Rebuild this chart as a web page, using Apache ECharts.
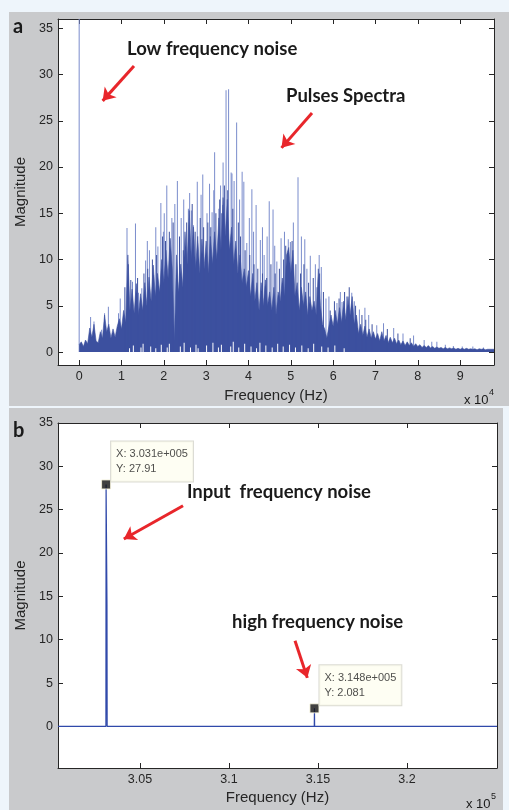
<!DOCTYPE html>
<html>
<head>
<meta charset="utf-8">
<script src="https://cdn.jsdelivr.net/npm/echarts@6/dist/echarts.min.js"></script>
<style>
  html, body { margin: 0; padding: 0; background: #eef5fb; }
  #wrap { position: relative; width: 509px; height: 810px; overflow: hidden; }
  .panel { position: absolute; background: #c9cacc; }
  #panel-a { left: 9px; top: 12px; width: 500px; height: 394px; }
  #panel-b { left: 9px; top: 408px; width: 494px; height: 402px; }
  #chart { position: absolute; left: 0; top: 0; width: 509px; height: 810px; }
</style>
</head>
<body>
<div id="wrap">
  <div class="panel" id="panel-a"></div>
  <div class="panel" id="panel-b"></div>
  <div id="chart"></div>
</div>
<script>
// panel a: dense part of the spectrum, one value per 500 Hz bin (0 .. 98 kHz)
const binHz = 500;
const massA = [
  0.8, 1.1, 0.6, 1.3, 0.9, 2.6, 1.6, 3.0, 1.2, 1.0, 2.2, 1.5, 4.0, 2.2, 3.0, 1.5, 2.5, 1.6, 2.8, 3.6,
  2.5, 4.5, 3.2, 10.5, 4.5, 6.8, 4.2, 7.4, 4.0, 6.3, 4.5, 7.5, 5.0, 8.1, 5.5, 9.4, 6.0, 8.5, 6.5, 10.0,
  7.5, 11.0, 8.0, 12.3, 9.0, 1.2, 10.5, 6.5, 9.5, 7.0, 13.0, 9.5, 15.3, 10.0, 13.5, 9.0, 12.5, 8.5, 12.2, 9.0,
  12.0, 8.5, 12.5, 9.5, 13.0, 10.0, 14.5, 11.0, 16.7, 12.5, 16.5, 11.0, 13.5, 9.5, 12.0, 8.5, 10.5, 7.5, 9.0, 7.0,
  8.8, 6.0, 8.5, 5.5, 7.5, 4.5, 7.5, 5.0, 7.8, 5.0, 6.5, 4.5, 7.0, 4.0, 6.5, 5.5, 8.0, 6.0, 10.5, 11.3,
  8.5, 11.0, 6.0, 7.5, 4.5, 7.0, 5.0, 6.5, 4.0, 6.0, 4.5, 5.5, 4.0, 9.0, 5.0, 3.0, 2.5, 1.5, 2.8, 4.0,
  2.8, 4.5, 3.0, 4.8, 3.2, 5.5, 3.5, 6.0, 4.0, 6.0, 3.0, 4.0, 2.0, 3.0, 1.8, 2.8, 1.6, 2.5, 1.5, 2.2,
  1.4, 2.0, 1.2, 2.2, 1.2, 1.8, 1.0, 1.6, 1.0, 1.5, 0.9, 1.3, 0.8, 1.2, 0.7, 1.1, 0.7, 1.0, 0.6, 0.9,
  0.6, 0.8, 0.5, 0.7, 0.5, 0.7, 0.45, 0.6, 0.4, 0.55, 0.4, 0.5, 0.35, 0.5, 0.35, 0.45, 0.35, 0.45, 0.3, 0.4,
  0.3, 0.4, 0.3, 0.4, 0.3, 0.35, 0.3, 0.35, 0.25, 0.35, 0.3, 0.35, 0.25, 0.3, 0.3, 0.3, 0.3
];
// thin dark peaks inside the dense part
const darkFreqA = [10800, 11600, 12200, 13800, 15300, 16200, 17300, 18300, 19700, 20400, 21300, 22200,
  23700, 24600, 25400, 26700, 27400, 28600, 29400, 30400, 31100, 32300, 33200, 33700, 34300, 35100,
  36300, 37600, 38100, 39200, 40300, 41300, 42200, 43300, 44300, 45300, 46300, 47300, 48300, 48800,
  50300, 51200, 52300, 53100, 54200, 55300, 56200, 56800, 57700, 59300, 60300, 61400, 62700, 63800,
  65300, 66800, 67700, 69200, 72800, 75300, 78200];
const darkMagA = [7.0, 9.5, 7.8, 8.0, 8.5, 9.0, 10.0, 10.5, 12.5, 12.0, 13.0, 14.0,
  12.5, 11.0, 14.0, 16.0, 13.0, 14.5, 13.5, 14.0, 13.5, 15.0, 16.5, 15.0, 18.0, 17.5,
  15.5, 14.0, 12.5, 11.0, 10.5, 9.5, 9.0, 8.5, 8.0, 9.5, 8.5, 9.0, 10.0, 11.5,
  12.0, 9.5, 8.5, 9.5, 7.5, 8.0, 7.0, 8.5, 6.5, 4.5, 5.5, 5.8, 6.5, 7.0,
  5.0, 4.0, 3.5, 3.0, 2.5, 2.0, 1.5];
// isolated peaks standing above the dense part
const spikeFreqA = [0, 2700, 3500, 5300, 6000, 6900, 9300, 9700, 11300, 12600, 13300, 14000, 14800, 15700,
  16100, 16600, 17600, 18100, 18600, 19300, 19900, 20100, 20700, 21900, 22600, 23200, 24100, 24700,
  25200, 25800, 26100, 26500, 27000, 27900, 28800, 29200, 30200, 30800, 31400, 31800, 32000, 33000,
  33400, 33900, 34000, 34700, 35300, 35900, 36100, 36600, 37200, 37900, 38500, 38900, 39600, 40200,
  40800, 41200, 41800, 42800, 43300, 43700, 44400, 44900, 45800, 46200, 46700, 47700, 48500, 49400,
  49900, 50600, 51700, 52500, 53300, 53800, 54600, 55800, 56700, 57200, 58300, 59000, 60900, 61700,
  62100, 63200, 64400, 65000, 66200, 67500, 68400, 70300, 71900, 74300, 76500, 79000,
  81500, 83300, 84500, 86500, 88400, 90500, 93000, 95500];
const spikeMagA = [38, 3.8, 3.3, 2.4, 4.2, 4.9, 4.2, 5.8, 13.4, 7.6, 13.9, 6.4, 6.9, 9.9,
  12.0, 11.0, 8.3, 13.5, 11.4, 16.1, 13.0, 15.0, 18.0, 14.5, 16.0, 18.5, 14.5, 16.5,
  10.5, 15.5, 17.2, 15.3, 13.7, 18.4, 17.0, 19.2, 15.0, 18.2, 15.1, 17.5, 21.6, 15.5,
  18.0, 15.9, 20.5, 28.3, 28.4, 19.4, 19.3, 18.5, 24.8, 16.5, 19.5, 18.4, 11.8, 14.5,
  17.6, 13.0, 15.9, 12.1, 13.5, 10.5, 12.5, 16.3, 15.4, 11.5, 9.8, 12.3, 13.0, 12.2,
  11.9, 14.0, 18.9, 12.5, 12.2, 9.0, 10.4, 9.5, 10.5, 9.2, 5.8, 6.0, 5.3, 6.5,
  5.4, 6.0, 6.4, 5.5, 4.6, 4.8, 4.0, 2.9, 3.1, 2.6, 2.0, 1.8,
  1.3, 1.1, 1.1, 0.8, 0.65, 0.6, 0.6, 0.5];
// low minima near the baseline (white gaps under the dense part)
const gapFreqA = [11900, 12800, 14600, 15100, 16900, 18100, 19400, 20800, 21300, 23900, 24800, 26300,
  27600, 28100, 30100, 31600, 32900, 33600, 35800, 36400, 37700, 39100, 40600, 41900, 42700, 44100,
  45600, 46900, 48200, 49700, 51100, 52600, 54100, 55400, 57300, 58800, 60400, 62600];
const gapMagA = [0.4, 0.7, 0.5, 0.9, 0.6, 0.4, 0.8, 0.5, 0.9, 0.6, 1.0, 0.5,
  0.8, 0.4, 0.7, 1.0, 0.5, 0.8, 0.6, 1.1, 0.5, 0.9, 0.6, 0.4, 1.0, 0.7,
  0.5, 0.9, 0.6, 0.8, 0.5, 0.7, 0.4, 0.9, 0.6, 0.5, 0.7, 0.4];
const xTickA = [0, 10000, 20000, 30000, 40000, 50000, 60000, 70000, 80000, 90000];
const yTick = [0, 5, 10, 15, 20, 25, 30, 35];

// panel b
const lineFreqB = [300400, 303090, 303100, 303150, 303160, 314790, 314800, 314810, 325050];
const lineMagB = [0, 0, 27.91, 14, 0, 0, 2.081, 0, 0];
const tipFreqB = [303100, 314800];
const tipMagB = [27.91, 2.081];
const xTickB = [305000, 310000, 315000, 320000];

const zip = (xs, ys) => xs.map((x, i) => [x, ys[i]]);
const matlabExp = v => v.toExponential(3).replace(/e([+-])(\d+)/, (m, s, d) => 'e' + s + d.padStart(3, '0'));

var myChart = echarts.init(document.getElementById('chart'));

const tickFont = { fontFamily: 'Liberation Sans', fontSize: 12.5, color: '#262626' };
const nameFont = { fontFamily: 'Liberation Sans', fontSize: 15, color: '#262626' };
const lineCol = '#262626';
const massCol = '#3c509f';

function xAx(grid, pos, min, max, ticks, fmt, name, gap) {
  return {
    type: 'value', gridIndex: grid, position: pos, min: min, max: max,
    name: name, nameLocation: 'middle', nameGap: gap, nameTextStyle: nameFont,
    axisLine: { show: true, onZero: false, lineStyle: { color: lineCol, width: 1 } },
    axisTick: { show: true, inside: true, length: 5, customValues: ticks, lineStyle: { color: lineCol } },
    axisLabel: { show: !!fmt, customValues: ticks, formatter: fmt, margin: 5, ...tickFont },
    splitLine: { show: false }
  };
}
function yAx(grid, pos, min, max, show, name) {
  return {
    type: 'value', gridIndex: grid, position: pos, min: min, max: max,
    name: name, nameLocation: 'middle', nameGap: 25, nameTextStyle: nameFont,
    axisLine: { show: true, onZero: false, lineStyle: { color: lineCol, width: 1 } },
    axisTick: { show: true, inside: true, length: 5, customValues: yTick, lineStyle: { color: lineCol } },
    axisLabel: { show: show, customValues: yTick, margin: 5, ...tickFont },
    splitLine: { show: false }
  };
}

const arrowStyle = { color: '#e8262b', width: 3, type: 'solid' };
function arrows(list) {
  return {
    silent: true, symbol: ['none', 'arrow'], symbolSize: 12,
    label: { show: false }, lineStyle: arrowStyle, itemStyle: { color: '#e8262b' },
    emphasis: { disabled: true },
    data: list.map(a => [{ coord: a[0] }, { coord: a[1] }])
  };
}

const txt = (x, y, s, size, weight) => ({
  type: 'text', x: x, y: y, silent: true,
  style: { text: s, fontFamily: weight ? 'Lato' : 'Liberation Sans', fontWeight: weight || 'normal',
    fontSize: size, fill: '#1a1a1a', verticalAlign: 'middle' }
});

const thinBars = (name, xs, ys, color, z) => ({
  name: name, type: 'bar', xAxisIndex: 0, yAxisIndex: 0, z: z,
  barWidth: 1, barGap: '-100%', data: zip(xs, ys), itemStyle: { color: color }
});

var option = {
  animation: false,
  grid: [
    { left: 58, top: 19, width: 436, height: 346, show: true, backgroundColor: '#fff', borderWidth: 0 },
    { left: 58, top: 423, width: 439, height: 345, show: true, backgroundColor: '#fff', borderWidth: 0 }
  ],
  xAxis: [
    xAx(0, 'bottom', -5000, 98000, xTickA, v => String(v / 10000), 'Frequency (Hz)', 23),
    xAx(0, 'top', -5000, 98000, xTickA, null),
    xAx(1, 'bottom', 300400, 325050, xTickB, v => String(v / 100000), 'Frequency (Hz)', 22),
    xAx(1, 'top', 300400, 325050, xTickB, null)
  ],
  yAxis: [
    yAx(0, 'left', -1.4, 36, true, 'Magnitude'),
    yAx(0, 'right', -1.4, 36, false),
    yAx(1, 'left', -4.8, 35, true, 'Magnitude'),
    yAx(1, 'right', -4.8, 35, false)
  ],
  series: [
    thinBars('peaks', spikeFreqA, spikeMagA, '#7a8ccc', 2),
    {
      name: 'spectrum', type: 'line', xAxisIndex: 0, yAxisIndex: 0, z: 3,
      symbol: 'none', data: massA.map((v, i) => [i * binHz, v]),
      lineStyle: { color: massCol, width: 0.6 },
      areaStyle: { color: massCol, opacity: 1 },
      markLine: arrows([
        [[12950, 30.92], [5550, 27.15]],
        [[55000, 25.84], [47800, 22.07]]
      ])
    },
    thinBars('dark peaks', darkFreqA, darkMagA, massCol, 3),
    thinBars('minima', gapFreqA, gapMagA, '#ffffff', 4),
    {
      name: 'spectrum b', type: 'line', xAxisIndex: 2, yAxisIndex: 2, z: 3,
      symbol: 'none', data: zip(lineFreqB, lineMagB),
      lineStyle: { color: '#3049aa', width: 1.2 },
      markLine: arrows([
        [[307420, 25.46], [304095, 21.62]],
        [[313708, 9.88], [314400, 5.6]]
      ])
    },
    {
      name: 'datatips', type: 'scatter', xAxisIndex: 2, yAxisIndex: 2, z: 5,
      symbol: 'rect', symbolSize: 9, data: zip(tipFreqB, tipMagB),
      itemStyle: { color: '#111', borderColor: '#fbf8e0', borderWidth: 1 },
      label: {
        show: true, position: [10, -38],
        formatter: p => 'X: ' + matlabExp(p.value[0]) + '\nY: ' + p.value[1],
        fontFamily: 'Liberation Sans', fontSize: 11, lineHeight: 15, color: '#222',
        backgroundColor: '#fefef0', borderColor: '#d2d2c8', borderWidth: 1, padding: [5, 5, 5, 5]
      }
    }
  ],
  graphic: [
    txt(13, 27, 'a', 20, 'bold'),
    txt(13, 431, 'b', 20, 'bold'),
    txt(127, 49, 'Low frequency noise', 18.5, 'bold'),
    txt(286, 96, 'Pulses Spectra', 18.5, 'bold'),
    txt(187, 492, 'Input  frequency noise', 18.5, 'bold'),
    txt(232, 622, 'high frequency noise', 18.5, 'bold'),
    txt(464, 400, 'x 10', 13),
    txt(489, 393, '4', 9),
    txt(466, 804, 'x 10', 13),
    txt(491, 797, '5', 9)
  ]
};

option && myChart.setOption(option);
</script>
</body>
</html>
